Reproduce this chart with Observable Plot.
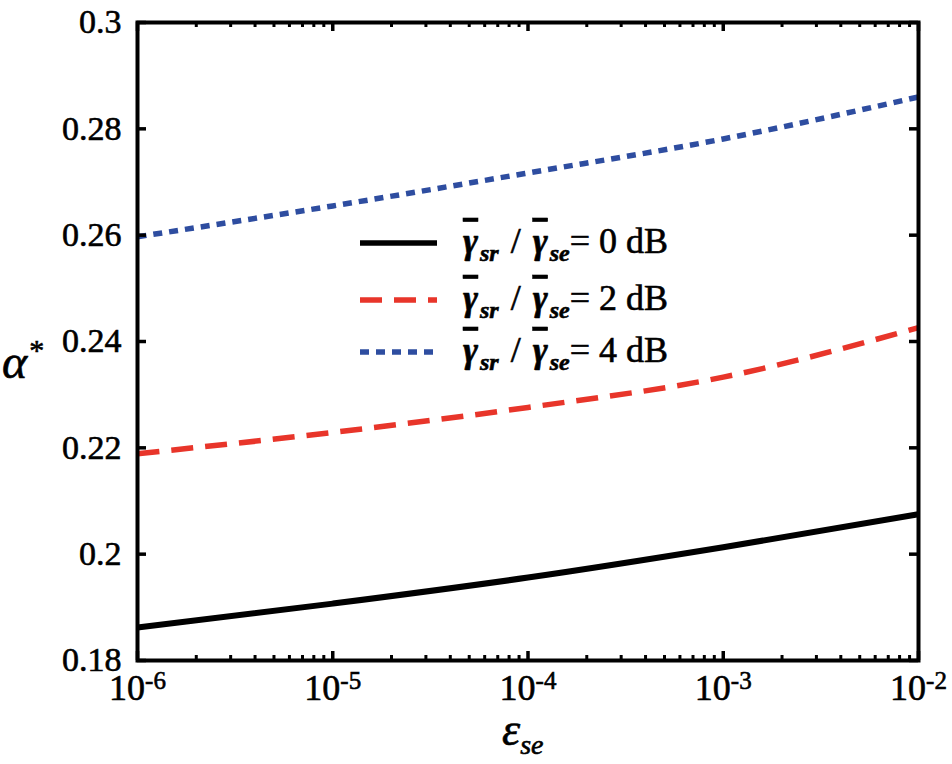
<!DOCTYPE html>
<html>
<head>
<meta charset="utf-8">
<script src="https://cdn.jsdelivr.net/npm/d3@7"></script>
<script src="https://cdn.jsdelivr.net/npm/@observablehq/plot@0.6"></script>
<style>
  html, body { margin: 0; padding: 0; background: #fff; }
  svg { display: block; }
  svg text { stroke: #000; stroke-width: 0.6px; paint-order: stroke; }
</style>
</head>
<body>
<div id="chart"></div>
<script>
// ---- data ----
const epsilon = [1e-6, 1e-5, 1e-4, 1e-3, 1e-2];
const alpha0dB = [0.1862, 0.1907, 0.1956, 0.2013, 0.2075];
const alpha2dB = [0.2189, 0.2229, 0.2276, 0.2333, 0.2426];
const alpha4dB = [0.2597, 0.2655, 0.2717, 0.2781, 0.2860];
const seriesDb = ["0", "2", "4"];
const seriesColors = ["#000000", "#e8352a", "#2e4da0"];
const seriesDash = [null, "22,12", "9,7"];
const yTicks = [0.18, 0.2, 0.22, 0.24, 0.26, 0.28, 0.3];
const xTicks = [1e-6, 1e-5, 1e-4, 1e-3, 1e-2];
const xMinor = [];
for (let e = -6; e < -2; e++) for (let m = 2; m <= 9; m++) xMinor.push(m * Math.pow(10, e));

const seriesValues = [alpha0dB, alpha2dB, alpha4dB];
const W = 952, H = 764, mL = 137, mR = 34, mT = 22, mB = 104;
const pw = W - mL - mR, ph = H - mT - mB;
const font = "'Liberation Serif', 'Times New Roman', Times, 'DejaVu Serif', serif";

const lineMarks = seriesValues.map((vals, i) =>
  Plot.line(epsilon.map((x, j) => ({x, y: vals[j]})), {
    x: "x", y: "y",
    stroke: seriesColors[i],
    strokeWidth: i === 0 ? 6 : 5.5,
    strokeDasharray: seriesDash[i] || undefined,
    strokeLinecap: "butt",
    curve: "monotone-x"
  })
);

const chart = Plot.plot({
  width: W, height: H,
  marginLeft: mL, marginRight: mR, marginTop: mT, marginBottom: mB,
  x: {type: "log", domain: [1e-6, 1e-2]},
  y: {domain: [0.18, 0.3]},
  style: {fontFamily: font, fontSize: "34px", background: "#fff", color: "#000"},
  marks: [
    ...lineMarks,
    Plot.tickX(xTicks, {x: d => d, insetTop: ph - 9, strokeWidth: 3.5}),
    Plot.tickX(xTicks, {x: d => d, insetBottom: ph - 9, strokeWidth: 3.5}),
    Plot.tickX(xMinor, {x: d => d, insetTop: ph - 5, strokeWidth: 3}),
    Plot.tickX(xMinor, {x: d => d, insetBottom: ph - 5, strokeWidth: 3}),
    Plot.tickY(yTicks, {y: d => d, insetRight: pw - 9, strokeWidth: 3.5}),
    Plot.tickY(yTicks, {y: d => d, insetLeft: pw - 9, strokeWidth: 3.5}),
    Plot.frame({strokeWidth: 4}),
    Plot.axisY({ticks: yTicks, tickSize: 0, tickPadding: 16, label: null,
      tickFormat: d => String(d), fontSize: 34}),
    Plot.axisX({ticks: xTicks, tickSize: 0, tickPadding: 14, label: null,
      tickFormat: d => "10|" + Math.round(Math.log10(d)), fontSize: 36})
  ]
});

document.getElementById("chart").appendChild(chart);
const svg = d3.select(chart);
svg.selectAll("text").style("font-family", font);

// superscript tick labels
svg.selectAll('g[aria-label="x-axis tick label"] text').each(function() {
  const t = d3.select(this);
  const parts = t.text().split("|");
  t.text("");
  t.append("tspan").text(parts[0]);
  t.append("tspan").attr("font-size", 25).attr("dy", "-0.45em").text(parts[1]);
});

// axis labels
const yl = svg.append("text").attr("x", 2).attr("y", 378).attr("text-anchor", "start")
  .style("font-family", font).attr("font-size", 48).attr("font-style", "italic");
yl.append("tspan").text("α");
yl.append("tspan").attr("font-size", 30).attr("font-style", "normal").attr("dy", -18).attr("dx", 2).text("*");

const xl = svg.append("text").attr("x", 502).attr("y", 745).attr("text-anchor", "start")
  .style("font-family", font).attr("font-size", 46).attr("font-style", "italic");
xl.append("tspan").text("ε");
xl.append("tspan").attr("font-size", 28).attr("dy", 9).text("se");

// legend
const legendY = [243, 300, 352];
seriesDb.forEach((db, i) => {
  const y = legendY[i];
  svg.append("line").attr("x1", 360).attr("x2", 437).attr("y1", y).attr("y2", y)
    .attr("stroke", seriesColors[i]).attr("stroke-width", 5.5)
    .attr("stroke-dasharray", seriesDash[i] || null);
  const t = svg.append("text").attr("x", 463).attr("y", y + 10).attr("text-anchor", "start")
    .style("font-family", font).attr("font-size", 36);
  t.append("tspan").attr("font-style", "italic").attr("font-weight", "bold")
    .style("text-decoration", "overline").text("γ");
  t.append("tspan").attr("font-style", "italic").attr("font-weight", "bold")
    .attr("font-size", 24).attr("dy", 8).attr("dx", 2).text("sr");
  t.append("tspan").attr("dy", -8).attr("dx", 12).text("/");
  t.append("tspan").attr("dx", 12).attr("font-style", "italic").attr("font-weight", "bold")
    .style("text-decoration", "overline").text("γ");
  t.append("tspan").attr("font-style", "italic").attr("font-weight", "bold")
    .attr("font-size", 24).attr("dy", 8).attr("dx", 2).text("se");
  t.append("tspan").attr("dy", -8).text("= " + db + " dB");
});
</script>
</body>
</html>
